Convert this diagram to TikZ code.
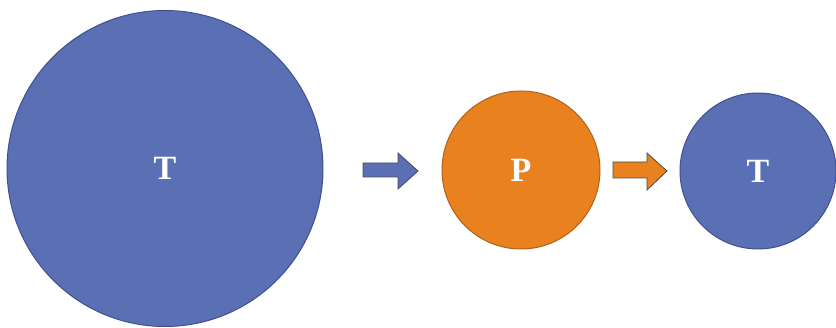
\documentclass[tikz,border=0pt]{standalone}
\usepackage{fontspec}
\setmainfont{Liberation Serif}
\definecolor{diskblue}{HTML}{5A6FB4}
\definecolor{diskblueline}{HTML}{3E5190}
\definecolor{diskorange}{HTML}{E8811E}
\definecolor{diskorangeline}{HTML}{B0621A}
\definecolor{arrowline}{HTML}{4A4A52}

\begin{document}
\begin{tikzpicture}[
  x=1pt,
  y=-1pt,
  every node/.style={font=\fontsize{34}{34}\selectfont\bfseries, text=white},
  disk/.style={circle, inner sep=0pt, line width=1pt},
  bluedisk/.style={disk, fill=diskblue, draw=diskblueline},
  orangedisk/.style={disk, fill=diskorange, draw=diskorangeline},
  blockarrow/.style={line width=0.8pt, draw=arrowline, line join=miter}
]
  \useasboundingbox (0,0) rectangle (836,328);

  % ================= the three disks ====================================
  \node[bluedisk, minimum size=316pt] (tbig) at (165,168.5) {T};
  \node[orangedisk, minimum size=158pt] (p) at (521,170) {P};
  \node[bluedisk, minimum size=156pt] (tsmall) at (758,171) {T};

  % ================= block arrows between them ==========================
  \draw[blockarrow, fill=diskblue]
    (363,163) -- (398,163) -- (398,153) -- (418,171) -- (398,189)
    -- (398,177) -- (363,177) -- cycle;
  \draw[blockarrow, fill=diskorange]
    (613,162) -- (647,162) -- (647,153) -- (667,171) -- (647,190)
    -- (647,178) -- (613,178) -- cycle;
\end{tikzpicture}
\end{document}
